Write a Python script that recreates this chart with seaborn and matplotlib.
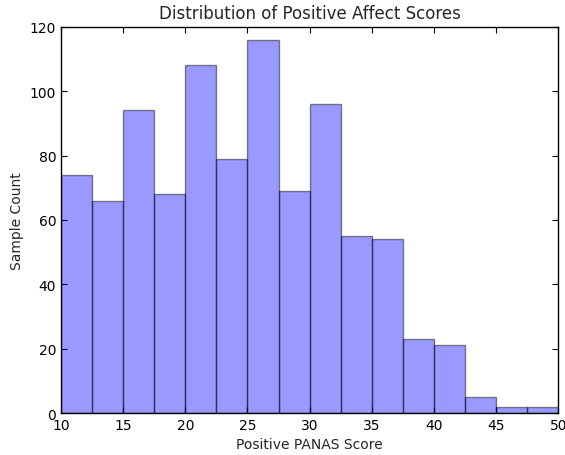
import numpy as np
import pandas as pd
import seaborn as sns
import matplotlib
matplotlib.use('Agg')
import matplotlib.pyplot as plt

# Histogram bins (width 2.5) and counts
bin_edges = [10, 12.5, 15, 17.5, 20, 22.5, 25, 27.5, 30, 32.5, 35, 37.5, 40, 42.5, 45, 47.5, 50]
counts = [74, 66, 94, 68, 108, 79, 116, 69, 96, 55, 54, 23, 21, 5, 2, 2]

bin_centers = [(a + b) / 2 for a, b in zip(bin_edges[:-1], bin_edges[1:])]
df = pd.DataFrame({'score': bin_centers, 'count': counts})

sns.set_style('ticks')
plt.rcParams['font.family'] = ['DejaVu Sans']
plt.rcParams['xtick.direction'] = 'in'
plt.rcParams['ytick.direction'] = 'in'

fig = plt.figure(figsize=(5.65, 4.56), dpi=100)
ax = fig.add_axes([0.108, 0.092, 0.880, 0.847])

sns.histplot(data=df, x='score', weights='count', bins=bin_edges, ax=ax,
             color='blue', alpha=0.4, edgecolor='black', linewidth=1)
for p in ax.patches:
    p.set_facecolor((0, 0, 1, 0.4))
    p.set_edgecolor((0, 0, 0, 0.45))

ax.set_xlim(10, 50)
ax.set_ylim(0, 120)
ax.set_xticks(range(10, 51, 5))
ax.set_yticks(range(0, 121, 20))
ax.tick_params(top=True, right=True, labelsize=10, length=4, width=0.8, colors='black')
for s in ax.spines.values():
    s.set_visible(True)
    s.set_color('black')
    s.set_linewidth(1)

ax.set_title('Distribution of Positive Affect Scores', fontsize=12)
ax.set_xlabel('Positive PANAS Score', fontsize=10)
ax.set_ylabel('Sample Count', fontsize=10)

fig.savefig('out.png', dpi=100)
